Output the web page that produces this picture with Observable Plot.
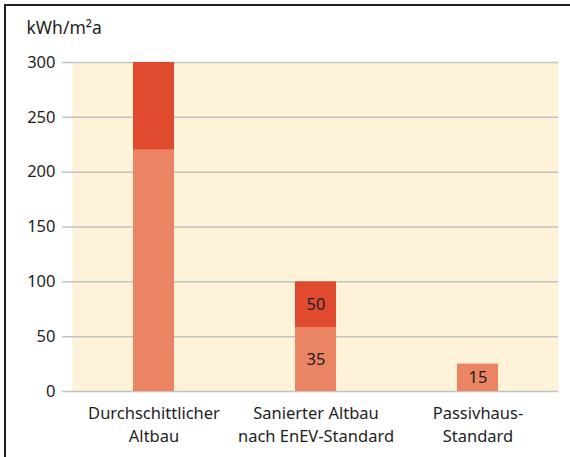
<!DOCTYPE html>
<html>
<head>
<meta charset="utf-8">
<script src="https://cdn.jsdelivr.net/npm/d3@7"></script>
<script src="https://cdn.jsdelivr.net/npm/@observablehq/plot@0.6"></script>
<style>
  html, body { margin: 0; padding: 0; background: #fff; overflow: hidden; }
  #wrap { position: relative; width: 570px; height: 457px; overflow: hidden; }
  #chart { position: absolute; left: 0; top: 0; }
  #frameline { position: absolute; left: 0; top: 0; pointer-events: none; }
</style>
</head>
<body>
<div id="wrap">
  <div id="chart"></div>
  <svg id="frameline" width="570" height="457">
    <line x1="5" y1="5" x2="570" y2="5" stroke="#1e1e1e" stroke-width="2"/>
    <line x1="5" y1="4" x2="5" y2="457" stroke="#1e1e1e" stroke-width="2"/>
  </svg>
</div>
<script>
const categories = ["Durchschittlicher\nAltbau", "Sanierter Altbau\nnach EnEV-Standard", "Passivhaus-\nStandard"];
const lowerValues = [220, 58, 25];
const upperValues = [80, 42, 0];
const lowerLabels = ["", "35", "15"];
const upperLabels = ["", "50", ""];
const yTicks = [0, 50, 100, 150, 200, 250, 300];
const unitLabel = "kWh/m²a";

const seriesNames = ["lower", "upper"];
const colors = ["#EB8462", "#E04B2F"];

const rows = [];
categories.forEach((c, i) => {
  rows.push({cat: c, series: "lower", value: lowerValues[i], label: lowerLabels[i]});
  rows.push({cat: c, series: "upper", value: upperValues[i], label: upperLabels[i]});
});

const font = "'Noto Sans', 'Open Sans', sans-serif";

const chart = Plot.plot({
  width: 570,
  height: 457,
  marginLeft: 72,
  marginRight: 12,
  marginTop: 62,
  marginBottom: 66,
  style: {fontFamily: font, fontSize: "16.5px", color: "#1e1e1e", background: "transparent", overflow: "visible"},
  x: {domain: categories, paddingInner: 0.747, paddingOuter: 0.3735, axis: null},
  y: {domain: [0, 300], axis: null},
  color: {domain: seriesNames, range: colors},
  marks: [
    Plot.frame({fill: "#FEF3D9", stroke: null}),
    Plot.ruleY(yTicks, {stroke: "#c2c2c2", strokeWidth: 1.5}),
    Plot.axisY({ticks: yTicks, tickSize: 10, tickPadding: 7, stroke: "#c2c2c2", strokeWidth: 1.5,
                fill: "#1e1e1e", fontSize: 16.5, label: null}),
    Plot.barY(rows, Plot.stackY({x: "cat", y: "value", fill: "series", order: seriesNames})),
    Plot.text(rows, Plot.stackY({x: "cat", y: "value", z: "series", order: seriesNames,
                text: "label", fill: "#1e1e1e", fontSize: 16.5, dy: 0})),
    Plot.text(categories, {x: d => d, text: d => d, frameAnchor: "bottom", dy: 11,
                lineAnchor: "top", lineHeight: 1.4, fontSize: 16.5, fill: "#1e1e1e"}),
    Plot.text([unitLabel], {frameAnchor: "top-left", dx: -46, dy: -34, textAnchor: "start",
                lineAnchor: "middle", fontSize: 17.5, fill: "#1e1e1e"})
  ]
});
document.getElementById("chart").appendChild(chart);
</script>
</body>
</html>
